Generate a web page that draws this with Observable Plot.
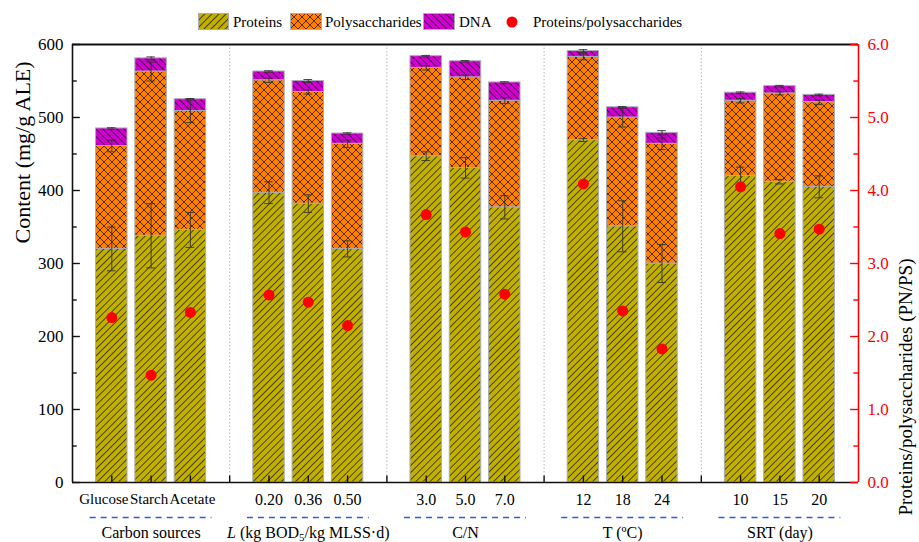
<!DOCTYPE html>
<html><head><meta charset="utf-8">
<script src="https://cdn.jsdelivr.net/npm/d3@7"></script>
<script src="https://cdn.jsdelivr.net/npm/@observablehq/plot@0.6"></script>
<style>
body{margin:0;background:#fff;font-family:"Liberation Serif","Times New Roman",serif;}
#wrap{position:relative;width:919px;height:542px;overflow:hidden;}
#legend{position:relative;height:34px;}
.sw{position:absolute;top:13px;}
.lt{position:absolute;top:12px;font-size:15px;line-height:20px;color:#000;white-space:nowrap;font-family:"Liberation Serif","Times New Roman",serif;}
</style></head><body>
<svg width="0" height="0" style="position:absolute">
<defs>
<pattern id="pProt" patternUnits="userSpaceOnUse" width="5" height="5" patternTransform="rotate(45)">
<rect width="5" height="5" fill="#c2b000"/><line x1="0" y1="0" x2="0" y2="5" stroke="#2b2600" stroke-width="1.6"/>
</pattern>
<pattern id="pPS" patternUnits="userSpaceOnUse" width="8" height="8">
<rect width="8" height="8" fill="#ff8000"/>
<path d="M0,0L8,8M8,0L0,8M-1,7L1,9M7,-1L9,1M-1,1L1,-1M7,9L9,7" stroke="#4a2200" stroke-width="0.9"/>
</pattern>
<pattern id="pDNA" patternUnits="userSpaceOnUse" width="5" height="5" patternTransform="rotate(-45)">
<rect width="5" height="5" fill="#d000d0"/><line x1="0" y1="0" x2="0" y2="5" stroke="#2a002a" stroke-width="1.4"/>
</pattern>
</defs></svg>
<div id="wrap"><div id="legend"></div><div id="chart"></div></div>
<script>
// ---- data ----
const categories = ["Glucose","Starch","Acetate","0.20","0.36","0.50","3.0","5.0","7.0","12","18","24","10","15","20"];
const groups = ["Carbon sources","L (kg BOD5/kg MLSS·d)","C/N","T (ºC)","SRT (day)"];
const proteins = [320, 338, 346, 397, 382, 320, 447, 431, 377, 469, 351, 300, 420, 412, 405];
const polysaccharides = [141, 225, 163, 154, 153, 144, 121, 124, 146, 114, 149, 164, 103, 121, 116];
const dna = [24, 18, 16, 12, 15, 14, 16, 22, 25, 8, 14, 15, 11, 10, 10];
const ratio = [2.26, 1.47, 2.33, 2.57, 2.47, 2.15, 3.67, 3.43, 2.58, 4.09, 2.35, 1.83, 4.05, 3.41, 3.47];
const proteinErr = [30, 44, 24, 15, 12, 11, 6, 14, 16, 2, 35, 26, 12, 3, 15];
const psErr = [8, 13, 16, 3, 3, 5, 3, 3, 4, 4, 13, 8, 3, 2, 3];
const dnaErr = [1, 2, 1, 1, 2, 1, 1, 1, 1, 2, 1, 3, 1, 1, 1];
const leftTicks = [0,100,200,300,400,500,600];
const rightTickLabels = ["0.0","1.0","2.0","3.0","4.0","5.0","6.0"];

const SERIF = '"Liberation Serif", "Times New Roman", serif';

// ---- legend ----
const legend = document.getElementById("legend");
legend.innerHTML = `
<svg class="sw" style="left:198px" width="31" height="17"><rect x="0.5" y="0.5" width="30" height="16" fill="url(#pProt)" stroke="#a9adb8"/></svg>
<div class="lt" style="left:233px">Proteins</div>
<svg class="sw" style="left:290px" width="32" height="17"><rect x="0.5" y="0.5" width="31" height="16" fill="url(#pPS)" stroke="#a9adb8"/></svg>
<div class="lt" style="left:325px">Polysaccharides</div>
<svg class="sw" style="left:423px" width="32" height="17"><rect x="0.5" y="0.5" width="31" height="16" fill="url(#pDNA)" stroke="#a9adb8"/></svg>
<div class="lt" style="left:459px">DNA</div>
<svg class="sw" style="left:505px;top:15px" width="14" height="14"><circle cx="7" cy="7" r="5.5" fill="#ff0000"/></svg>
<div class="lt" style="left:533px">Proteins/polysaccharides</div>`;

// ---- table ----
const rows = categories.map((c, i) => {
  const x = Math.floor(i / 3) * 4 + (i % 3) + 1;
  const t1 = proteins[i], t2 = t1 + polysaccharides[i], t3 = t2 + dna[i];
  return {cat: c, x, t1, t2, t3, r: ratio[i], pe: proteinErr[i], se: psErr[i], de: dnaErr[i]};
});
const errs = [];
rows.forEach(r => { errs.push({x: r.x, y: r.t1, e: r.pe}, {x: r.x, y: r.t2, e: r.se}, {x: r.x, y: r.t3, e: r.de}); });
const groupRows = groups.map((g, k) => ({g, c: 4 * k + 2, a: 4 * k + 0.45, b: 4 * k + 3.55}));
const hw = 0.4, cw = 0.11;
const minorL = d3.range(50, 600, 100);
const wordLabel = (name, dx) => Plot.text(rows, {filter: d => d.cat === name, x: "x", y: 0, text: "cat", dy: 17, dx, fontSize: 15, fontFamily: SERIF, fill: "black"});

const svg = Plot.plot({
  width: 919, height: 508,
  marginTop: 10, marginBottom: 60, marginLeft: 72, marginRight: 61,
  style: {fontFamily: SERIF, color: "black", background: "white", overflow: "visible"},
  x: {domain: [0, 20], axis: null},
  y: {domain: [0, 600], axis: null},
  marks: [
    Plot.ruleX([4, 8, 12, 16], {stroke: "#b5b5b5", strokeDasharray: "1.5,2", strokeWidth: 1}),
    Plot.rectY(rows, {x1: d => d.x - hw, x2: d => d.x + hw, y1: 0, y2: "t1", fill: "url(#pProt)", stroke: "#a9adb8", strokeWidth: 1}),
    Plot.rectY(rows, {x1: d => d.x - hw, x2: d => d.x + hw, y1: "t1", y2: "t2", fill: "url(#pPS)", stroke: "#a9adb8", strokeWidth: 1}),
    Plot.rectY(rows, {x1: d => d.x - hw, x2: d => d.x + hw, y1: "t2", y2: "t3", fill: "url(#pDNA)", stroke: "#a9adb8", strokeWidth: 1}),
    Plot.ruleX(errs, {x: "x", y1: d => d.y - d.e, y2: d => d.y + d.e, stroke: "#333", strokeWidth: 0.9}),
    Plot.ruleY(errs, {y: d => d.y + d.e, x1: d => d.x - cw, x2: d => d.x + cw, stroke: "#333", strokeWidth: 0.9}),
    Plot.ruleY(errs, {y: d => d.y - d.e, x1: d => d.x - cw, x2: d => d.x + cw, stroke: "#333", strokeWidth: 0.9}),
    Plot.dot(rows, {x: "x", y: d => d.r * 100, r: 5.5, fill: "#ff0000", stroke: "none"}),
    // frame
    Plot.ruleY([600], {stroke: "#111", strokeWidth: 2}),
    Plot.ruleY([0], {stroke: "#111", strokeWidth: 1.6}),
    Plot.ruleX([0], {stroke: "#111", strokeWidth: 1.6}),
    Plot.ruleX([20], {stroke: "#ff0000", strokeWidth: 1.6}),
    // inward ticks
    Plot.ruleY(leftTicks, {x1: 0, x2: 0.2, stroke: "#111", strokeWidth: 1.4}),
    Plot.ruleY(minorL, {x1: 0, x2: 0.12, stroke: "#111", strokeWidth: 1.4}),
    Plot.ruleY(leftTicks, {x1: 20, x2: 19.8, stroke: "#ff0000", strokeWidth: 1.4}),
    Plot.ruleY(minorL, {x1: 20, x2: 19.88, stroke: "#ff0000", strokeWidth: 1.4}),
    Plot.ruleX(d3.range(1, 20), {y1: 0, y2: 9, stroke: "#111", strokeWidth: 1.4}),
    // axes labels
    Plot.axisY({anchor: "left", ticks: leftTicks, tickSize: 0, tickPadding: 9, fontSize: 17, fontFamily: SERIF, label: null, tickFormat: d => String(d)}),
    Plot.axisY({anchor: "right", ticks: leftTicks, tickSize: 0, tickPadding: 9, fontSize: 17, fontFamily: SERIF, label: null, color: "#ff0000", tickFormat: d => rightTickLabels[d / 100]}),
    Plot.text(["Content (mg/g ALE)"], {frameAnchor: "left", dx: -50, dy: -20, rotate: -90, fontSize: 22, fontFamily: SERIF, fill: "black"}),
    Plot.text(["Proteins/polysaccharides (PN/PS)"], {frameAnchor: "right", dx: 47, dy: -5, rotate: -90, fontSize: 19, fontFamily: SERIF, fill: "black"}),
    // category labels
    wordLabel("Glucose", -8),
    wordLabel("Starch", -2),
    wordLabel("Acetate", 2),
    Plot.text(rows, {filter: d => !isNaN(+d.cat), x: "x", y: 0, text: "cat", dy: 17, fontSize: 16, fontFamily: SERIF, fill: "black"}),
    Plot.ruleY(groupRows, {y: 0, x1: "a", x2: "b", dy: 35, stroke: "#3355ee", strokeWidth: 1.5, strokeDasharray: "6,5"}),
    Plot.text(groupRows, {x: "c", y: 0, text: "g", dy: 50, fontSize: 16, fontFamily: SERIF, fill: "black"})
  ]
});
d3.select(svg).selectAll("text").attr("font-family", SERIF).style("font-family", SERIF);
d3.select(svg).selectAll("text").each(function () {
  if (this.textContent === "L (kg BOD5/kg MLSS·d)") {
    this.innerHTML = '<tspan font-style="italic">L</tspan><tspan> (kg BOD</tspan><tspan dy="3" font-size="11">5</tspan><tspan dy="-3">/kg MLSS·d)</tspan>';
  }
});
document.getElementById("chart").appendChild(svg);
</script>
</body></html>
